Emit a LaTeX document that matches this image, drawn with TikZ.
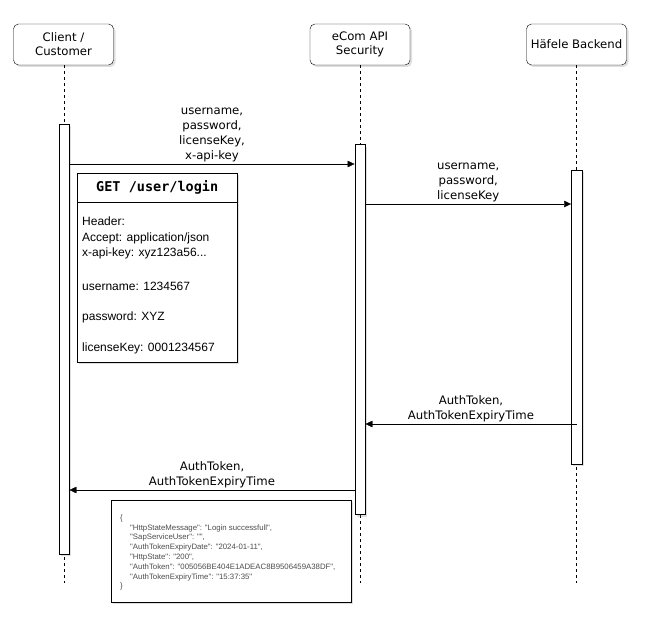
\documentclass[tikz,border=0pt]{standalone}
\usepackage{fontspec}
\setmainfont{DejaVu Sans}
\newfontfamily\bodyfont{Liberation Sans}
\newfontfamily\codefont{DejaVu Sans Mono}
\usetikzlibrary{positioning,arrows.meta,shadows,calc}

\begin{document}
\begin{tikzpicture}[x=1pt,y=-1pt,
  shade/.style={drop shadow={opacity=.25,shadow xshift=2pt,shadow yshift=-2pt}},
  head/.style={draw,fill=white,rounded corners=5pt,minimum width=100pt,minimum height=41pt,align=center,inner sep=0pt,font=\fontsize{11.7}{14}\selectfont,shade},
  life/.style={dash pattern=on 3pt off 3pt},
  bar/.style={draw,fill=white,minimum width=10.5pt,inner sep=0pt,shade},
  msg/.style={-{Triangle[length=7pt,width=6.5pt]}},
  lbl/.style={align=center,inner sep=2pt,font=\fontsize{11.7}{14.8}\selectfont}]
  \useasboundingbox (0,0) rectangle (664,642);

  % lifeline heads
  \node[head] (client) at (63.5,44.5) {Client /\\Customer};
  \node[head] (ecom) at (360,44.5) {eCom API\\Security};
  \node[head] (hafele) at (576.5,44.5) {Häfele Backend};

  % lifelines
  \coordinate (cend) at (64,583);
  \coordinate (eend) at (360,583);
  \coordinate (hend) at (576,583);
  \draw[life] (client.south -| cend) -- (cend);
  \draw[life] (ecom.south -| eend) -- (eend);
  \draw[life] (hafele.south -| hend) -- (hend);

  % activation bars
  \node[bar,minimum height=430pt] (cbar) at (64,339) {};
  \node[bar,minimum height=370pt] (ebar) at (360,329.5) {};
  \node[bar,minimum height=294pt] (hbar) at (576.5,317) {};

  % messages
  \coordinate (m1) at (0,164);
  \coordinate (m2) at (0,204);
  \coordinate (m3) at (0,424);
  \coordinate (m4) at (0,490);
  \draw[msg] (cbar.east |- m1) -- node[lbl,above] {username,\\password,\\licenseKey,\\x-api-key} (ebar.west |- m1);
  \draw[msg] (ebar.east |- m2) -- node[lbl,above] {username,\\password,\\licenseKey} (hbar.west |- m2);
  \draw[msg] (hbar.center |- m3) -- node[lbl,above] {AuthToken,\\AuthTokenExpiryTime} (ebar.east |- m3);
  \draw[msg] (ebar.west |- m4) -- node[lbl,above] {AuthToken,\\AuthTokenExpiryTime} (cbar.east |- m4);

  % request note
  \node[draw,fill=white,minimum width=160pt,minimum height=189pt,anchor=north west,shade] (req) at (77,173) {};
  \node[draw,minimum width=160pt,minimum height=29pt,anchor=north west,inner sep=0pt,font=\codefont\bfseries\fontsize{13.5}{16}\selectfont] (reqtitle) at (req.north west) {GET /user/login};
  \node[anchor=north west,inner sep=0pt,align=left,font=\bodyfont\fontsize{12}{15.5}\selectfont] (reqbody) at (82,216.7)
    {Header:\\Accept: application/json\\x-api-key: xyz123a56...\\[18.5pt]username: 1234567\\[14.5pt]password: XYZ\\[15.5pt]licenseKey: 0001234567};

  % response note
  \node[draw,fill=white,minimum width=240pt,minimum height=102pt,anchor=north west,shade] (resp) at (110.5,500) {};
  \node[anchor=north west,inner sep=0pt,align=left,text=black!70,font=\bodyfont\fontsize{7.8}{9.8}\selectfont] (respbody) at (120,514.5)
    {\{\\
     \hspace*{10pt}"HttpStateMessage": "Login successfull",\\
     \hspace*{10pt}"SapServiceUser": "",\\
     \hspace*{10pt}"AuthTokenExpiryDate": "2024-01-11",\\
     \hspace*{10pt}"HttpState": "200",\\
     \hspace*{10pt}"AuthToken": "005056BE404E1ADEAC8B9506459A38DF",\\
     \hspace*{10pt}"AuthTokenExpiryTime": "15:37:35"\\
     \}};
\end{tikzpicture}
\end{document}
